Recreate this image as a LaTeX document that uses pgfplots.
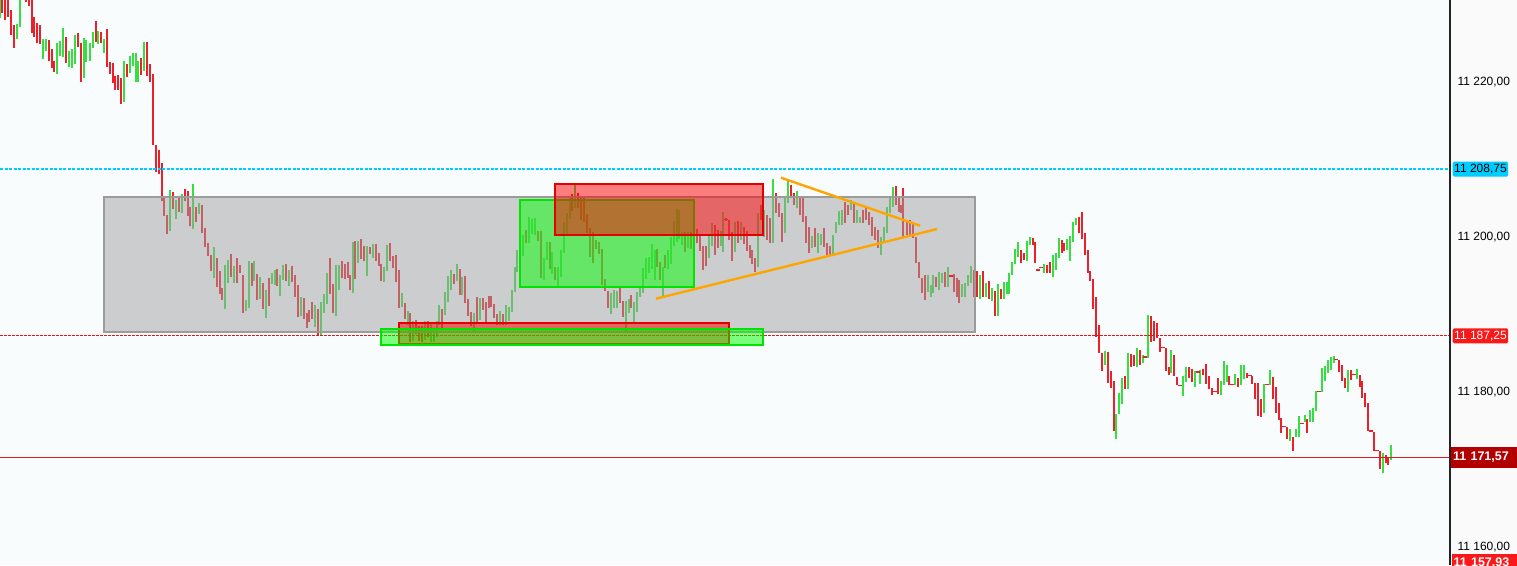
\documentclass[border=0pt]{standalone}
\usepackage{pgfplots}
\usepackage{pgfplotstable}
\usepackage{fontspec}
\setmainfont{Liberation Sans}
\pgfplotsset{compat=1.18}
\definecolor{upc}{RGB}{55,222,65}
\definecolor{dnc}{RGB}{236,32,42}
\definecolor{bgc}{RGB}{248,252,253}
\definecolor{panelc}{RGB}{250,250,250}
\definecolor{grayfill}{RGB}{160,160,160}
\definecolor{grayedge}{RGB}{155,155,155}
\definecolor{orangec}{RGB}{255,165,0}
\definecolor{levelcyan}{RGB}{0,205,255}
\definecolor{cyanbox}{RGB}{0,205,255}
\definecolor{levelred}{RGB}{230,20,20}
\definecolor{lastred}{RGB}{215,30,30}
\definecolor{darkredbox}{RGB}{178,0,0}
\definecolor{redbox}{RGB}{250,25,25}
\definecolor{axisc}{RGB}{35,35,35}
% x = bar position, lo = low, hi = high, d = 1 up (green) / 0 down (red)
\pgfplotstableread{
x lo hi d
0 11228.3 11231.5 1
2 11228.9 11231.0 0
5 11228.0 11231.2 0
8 11228.4 11231.0 0
11 11226.1 11229.3 0
14 11224.4 11227.4 0
17 11225.6 11227.5 1
20 11227.1 11230.8 1
23 11231.0 11232.0 0
26 11230.3 11231.5 0
29 11229.8 11231.2 0
32 11226.3 11230.7 0
34 11225.8 11228.4 0
37 11225.0 11227.6 0
40 11224.9 11227.4 0
43 11223.0 11225.6 1
46 11224.0 11225.6 1
49 11222.7 11225.4 0
52 11221.8 11224.3 0
54 11221.3 11222.7 0
57 11221.0 11225.0 1
60 11223.4 11225.3 1
63 11223.2 11227.0 1
66 11222.5 11225.8 0
69 11221.9 11224.0 1
72 11221.8 11224.3 1
75 11222.3 11226.1 1
78 11224.5 11226.3 0
81 11220.0 11225.0 0
84 11220.5 11225.7 1
86 11222.6 11225.4 1
90 11222.7 11225.0 1
93 11224.4 11226.5 1
96 11225.2 11227.9 0
98 11224.9 11226.6 1
101 11225.0 11226.5 0
104 11223.7 11225.6 1
107 11221.9 11226.8 0
110 11221.0 11222.6 0
113 11219.9 11222.5 0
115 11219.0 11220.8 0
118 11219.0 11220.9 0
121 11217.2 11220.5 0
124 11217.4 11222.7 1
127 11220.6 11222.3 0
130 11221.2 11223.4 1
133 11222.1 11223.7 1
136 11220.0 11223.7 1
138 11220.0 11222.7 1
141 11220.9 11223.1 0
144 11221.4 11225.2 1
147 11220.8 11225.2 0
150 11220.0 11222.3 0
153 11211.9 11221.0 0
156 11208.4 11211.9 0
159 11208.1 11211.2 0
162 11204.6 11209.5 0
164 11202.7 11205.3 0
167 11200.4 11202.8 0
170 11200.8 11206.1 1
173 11203.6 11205.8 0
176 11202.3 11204.8 1
179 11203.2 11205.0 0
182 11203.1 11205.6 1
185 11204.6 11206.2 0
188 11202.7 11206.0 0
190 11201.4 11203.9 0
193 11201.0 11206.9 1
196 11202.0 11203.9 0
199 11203.0 11204.4 1
202 11200.5 11204.1 0
205 11198.7 11201.2 0
208 11197.5 11199.2 0
211 11195.6 11197.7 0
214 11194.7 11198.7 1
217 11193.5 11197.3 0
220 11192.6 11195.6 0
222 11191.9 11193.4 0
225 11190.7 11196.4 1
228 11194.1 11197.0 1
231 11194.8 11197.8 0
234 11194.1 11196.3 1
237 11194.1 11197.3 0
240 11195.4 11196.4 0
243 11190.2 11195.1 0
246 11190.5 11191.9 1
249 11190.8 11196.9 1
252 11193.7 11196.6 0
254 11194.3 11196.9 1
257 11191.9 11195.2 0
260 11192.0 11194.8 1
263 11190.7 11194.1 0
266 11189.5 11193.2 1
269 11191.1 11194.7 0
272 11193.9 11195.4 1
275 11193.8 11195.7 1
277 11193.7 11195.9 0
280 11192.4 11195.1 1
283 11194.5 11196.4 1
286 11194.3 11196.5 0
289 11193.7 11195.7 1
292 11194.2 11196.3 0
295 11192.3 11195.1 0
298 11189.7 11193.8 0
301 11189.8 11192.3 1
304 11189.4 11192.1 0
307 11188.3 11190.2 0
309 11189.0 11190.6 0
312 11189.4 11191.6 0
315 11188.4 11191.2 1
318 11187.2 11190.7 0
321 11187.4 11191.6 1
324 11190.2 11192.7 1
327 11191.4 11195.4 1
330 11192.7 11197.3 0
333 11190.2 11194.0 0
336 11189.8 11196.4 1
339 11193.2 11196.4 1
342 11194.7 11196.9 0
345 11194.6 11196.5 0
348 11194.7 11196.8 0
350 11193.2 11195.1 0
353 11192.8 11199.4 1
355 11194.6 11199.5 0
358 11196.7 11199.5 1
361 11197.2 11199.8 0
364 11196.9 11198.9 0
367 11195.0 11198.9 1
370 11197.8 11198.7 0
373 11197.3 11199.1 1
376 11196.9 11199.1 0
379 11196.3 11197.9 0
381 11194.3 11196.5 0
384 11194.2 11196.1 1
387 11195.6 11199.0 1
390 11196.9 11199.2 0
393 11196.0 11197.6 0
396 11194.2 11197.7 0
399 11190.8 11195.7 0
402 11191.0 11192.8 1
405 11189.4 11191.5 0
408 11188.6 11190.5 1
410 11186.5 11190.2 0
413 11186.6 11189.2 1
416 11187.5 11189.3 0
419 11186.6 11188.5 0
422 11186.5 11188.5 0
425 11186.7 11189.2 1
428 11187.1 11189.2 0
431 11186.5 11188.8 1
434 11186.5 11188.3 1
437 11187.1 11189.2 1
439 11188.6 11191.2 1
442 11188.3 11190.7 0
445 11189.9 11192.9 1
448 11191.6 11195.0 1
451 11193.2 11195.7 1
454 11193.9 11195.2 0
457 11194.3 11196.5 1
460 11192.5 11195.9 0
462 11192.5 11194.8 1
465 11191.5 11195.0 0
468 11189.8 11192.0 0
471 11188.5 11190.3 0
474 11187.9 11190.2 1
477 11188.8 11192.3 0
480 11189.3 11192.1 1
483 11190.6 11192.1 0
486 11188.8 11191.6 0
489 11190.8 11192.4 0
491 11191.0 11192.4 0
494 11189.5 11191.4 0
497 11188.6 11190.1 0
500 11188.6 11190.5 1
503 11188.6 11190.1 0
506 11188.6 11191.2 1
509 11189.2 11191.0 1
512 11190.3 11193.2 1
515 11192.9 11196.1 1
517 11195.5 11198.3 1
520 11198.1 11200.9 1
523 11197.6 11200.3 1
526 11199.2 11200.9 0
529 11199.2 11202.6 1
532 11200.4 11202.3 1
535 11200.3 11202.5 1
538 11199.5 11200.8 0
541 11194.7 11200.8 0
544 11194.5 11197.3 1
547 11197.0 11199.4 1
550 11195.9 11199.4 0
552 11195.2 11198.1 1
555 11194.5 11196.1 0
558 11193.6 11196.1 1
561 11194.8 11198.3 1
564 11198.0 11202.0 1
567 11200.1 11203.1 1
570 11202.3 11205.0 1
572 11203.4 11205.6 0
575 11203.7 11206.7 1
578 11203.7 11205.7 0
581 11202.2 11205.2 0
584 11201.9 11205.0 0
587 11200.5 11203.0 0
590 11197.4 11201.2 0
593 11196.6 11200.7 0
596 11198.5 11199.6 0
599 11197.8 11199.4 0
602 11193.8 11198.5 0
605 11193.0 11194.6 0
608 11190.8 11193.0 0
611 11190.1 11192.8 1
614 11190.8 11193.2 1
617 11190.8 11193.0 1
620 11191.5 11193.4 0
623 11189.7 11191.7 0
626 11187.6 11191.7 1
629 11190.2 11192.0 1
631 11190.8 11192.5 0
634 11189.0 11191.6 1
637 11190.3 11192.9 1
640 11192.3 11193.7 1
643 11192.8 11196.0 1
646 11194.6 11197.3 1
649 11195.4 11197.4 1
652 11195.9 11199.1 1
655 11194.5 11198.3 1
657 11196.1 11198.5 0
660 11194.5 11196.8 0
663 11192.4 11196.1 1
665 11196.0 11197.7 0
668 11195.9 11198.3 1
671 11196.5 11200.0 1
674 11198.8 11202.1 1
677 11199.4 11203.6 1
679 11199.7 11203.5 1
682 11199.0 11200.6 1
685 11198.1 11200.6 0
688 11198.6 11200.6 1
691 11198.5 11200.6 0
694 11200.1 11201.0 0
697 11199.2 11201.0 0
700 11198.2 11200.1 0
703 11195.7 11198.8 0
706 11196.3 11198.8 0
709 11197.3 11200.3 1
712 11198.8 11201.8 1
715 11197.7 11201.5 0
718 11198.6 11200.9 0
721 11198.8 11200.8 1
723 11198.1 11203.2 1
726 11202.1 11202.4 0
729 11199.6 11202.2 0
732 11196.9 11200.7 0
735 11198.1 11202.0 1
738 11199.2 11202.1 0
741 11199.6 11202.0 1
744 11199.1 11201.3 0
747 11198.2 11200.8 0
750 11197.3 11199.0 0
752 11196.5 11198.3 0
755 11195.5 11197.3 0
758 11196.1 11203.1 1
761 11202.2 11204.1 0
764 11200.0 11203.5 1
767 11199.6 11202.8 0
770 11199.2 11202.5 0
773 11199.2 11207.5 1
776 11203.1 11205.7 0
779 11202.6 11204.4 0
782 11199.4 11203.1 0
785 11200.5 11205.0 1
788 11204.4 11207.5 1
791 11205.0 11206.7 0
794 11204.1 11205.7 0
797 11203.7 11205.9 1
800 11202.8 11205.2 0
803 11201.9 11205.2 0
806 11199.2 11202.7 0
809 11197.9 11201.3 0
812 11198.6 11200.1 1
815 11198.7 11201.2 0
818 11197.9 11200.5 1
821 11199.0 11200.4 1
824 11198.7 11201.2 0
827 11197.5 11199.2 0
830 11197.7 11198.9 0
833 11197.7 11200.3 1
836 11200.5 11202.0 1
839 11201.5 11203.3 1
842 11201.5 11203.5 1
845 11201.8 11204.5 0
848 11202.8 11204.1 0
851 11203.5 11204.8 1
854 11201.8 11204.4 0
857 11201.8 11203.5 1
860 11201.8 11202.6 1
863 11201.8 11203.5 0
866 11202.2 11203.7 0
869 11201.5 11203.2 0
872 11200.1 11202.6 0
875 11199.6 11201.3 0
878 11198.6 11200.9 0
881 11197.7 11200.0 1
884 11199.4 11201.3 1
887 11200.5 11203.9 1
890 11203.1 11205.2 1
893 11203.9 11206.5 1
896 11204.1 11206.6 0
899 11203.2 11205.0 0
901 11203.1 11204.1 0
903 11200.0 11206.3 0
907 11200.3 11202.2 0
910 11200.3 11202.2 0
913 11199.9 11202.0 0
916 11196.7 11200.0 0
919 11194.7 11196.8 0
922 11192.8 11194.7 0
925 11191.9 11195.1 0
928 11192.9 11195.1 1
931 11192.3 11193.8 1
933 11192.8 11195.1 1
936 11193.5 11194.8 0
939 11193.2 11195.5 1
942 11194.1 11195.3 1
945 11193.5 11195.5 0
948 11193.5 11196.1 1
951 11194.85 11195.05 0
954 11192.9 11195.2 0
957 11192.3 11194.7 0
959 11191.5 11194.5 0
962 11192.3 11194.0 1
965 11192.3 11194.1 1
968 11193.7 11195.1 1
971 11194.1 11196.3 1
974 11192.3 11195.7 0
977 11192.3 11195.6 0
980 11192.0 11195.1 1
983 11192.3 11195.6 0
986 11192.2 11194.1 1
989 11192.0 11194.3 0
992 11191.7 11193.4 1
995 11189.8 11193.0 0
998 11189.8 11193.9 1
1001 11192.0 11193.3 0
1004 11192.0 11194.2 1
1007 11192.6 11194.2 1
1009 11192.6 11195.4 1
1012 11195.1 11196.8 1
1015 11196.5 11198.5 1
1018 11197.4 11199.4 1
1021 11196.6 11198.3 0
1024 11197.0 11197.9 0
1027 11196.9 11199.5 1
1030 11199.0 11200.0 1
1033 11199.0 11199.9 0
1035 11196.6 11199.4 0
1038 11195.6 11195.9 0
1041 11195.95 11196.15 0
1044 11195.4 11196.5 1
1047 11195.4 11196.4 0
1050 11195.4 11196.8 0
1053 11194.8 11197.7 1
1056 11195.7 11197.9 1
1059 11197.3 11199.9 1
1062 11197.9 11199.6 0
1064 11198.2 11199.2 0
1067 11198.3 11199.7 1
1070 11196.9 11200.1 1
1073 11199.4 11201.9 1
1076 11201.5 11202.5 1
1079 11200.5 11202.6 0
1082 11199.7 11203.2 0
1085 11197.7 11200.5 0
1088 11195.4 11198.3 0
1090 11194.3 11195.6 0
1093 11190.7 11194.6 0
1096 11187.1 11192.3 0
1099 11185.0 11188.6 0
1102 11182.7 11185.0 0
1105 11183.5 11185.3 1
1108 11181.2 11185.2 0
1111 11180.5 11182.7 0
1114 11175.0 11181.4 0
1116 11173.9 11177.2 1
1119 11177.2 11179.9 1
1122 11178.5 11181.8 1
1125 11180.4 11182.1 0
1128 11180.4 11185.0 1
1131 11183.2 11184.9 0
1134 11183.4 11184.8 0
1137 11183.2 11185.7 1
1140 11183.5 11185.4 0
1143 11183.7 11184.8 1
1145 11184.4 11184.7 0
1148 11184.4 11189.9 1
1151 11186.5 11189.8 0
1154 11186.6 11189.2 0
1157 11187.0 11188.9 0
1160 11185.2 11187.0 0
1163 11185.65 11185.85 0
1166 11182.7 11185.7 0
1169 11182.2 11183.2 0
1171 11182.5 11185.4 1
1174 11182.1 11184.8 0
1177 11180.9 11182.0 0
1180 11180.75 11180.95 0
1183 11179.5 11182.1 1
1186 11181.3 11183.2 1
1189 11181.8 11183.2 0
1192 11181.3 11183.0 0
1195 11180.6 11182.7 1
1198 11182.45 11182.65 0
1200 11181.0 11182.8 1
1203 11182.2 11183.0 0
1206 11181.0 11183.6 0
1209 11180.4 11182.1 0
1212 11179.6 11180.5 0
1215 11179.95 11180.15 0
1218 11179.7 11181.8 0
1221 11179.6 11181.4 1
1224 11180.9 11184.0 1
1227 11181.3 11183.5 1
1229 11180.9 11182.1 0
1232 11180.85 11181.05 0
1235 11180.9 11182.3 1
1238 11180.6 11181.8 0
1241 11180.9 11183.5 1
1244 11181.7 11183.5 1
1247 11181.8 11182.5 0
1250 11182.05 11182.25 0
1252 11181.0 11182.1 0
1255 11179.1 11181.2 0
1258 11176.9 11181.2 0
1261 11176.8 11179.1 0
1264 11177.3 11181.0 1
1267 11180.85 11181.05 0
1270 11180.9 11182.8 1
1273 11179.1 11181.9 0
1276 11177.3 11180.6 0
1279 11176.4 11178.6 0
1281 11174.7 11176.6 0
1284 11175.45 11175.65 0
1287 11173.9 11175.5 0
1290 11173.7 11175.2 1
1293 11172.4 11174.2 0
1296 11174.2 11175.2 1
1299 11174.2 11176.9 1
1302 11175.85 11176.05 0
1305 11176.1 11177.0 1
1307 11174.7 11176.5 0
1310 11176.1 11177.7 1
1313 11176.1 11177.9 1
1316 11177.6 11180.1 1
1319 11179.95 11180.15 0
1322 11180.0 11183.1 1
1325 11181.4 11183.4 1
1328 11182.5 11184.1 1
1331 11182.8 11184.5 1
1334 11183.7 11184.7 1
1336 11184.1 11184.3 0
1339 11182.6 11184.1 0
1342 11181.4 11183.5 0
1345 11180.5 11181.8 0
1348 11180.0 11182.8 1
1351 11181.5 11182.8 0
1354 11182.15 11182.35 0
1357 11181.7 11183.0 1
1360 11180.6 11182.2 0
1362 11179.2 11181.4 0
1365 11178.1 11179.9 0
1368 11175.0 11178.6 0
1371 11174.85 11175.05 0
1374 11172.4 11174.9 0
1377 11172.35 11172.55 0
1380 11170.1 11172.4 0
1383 11169.5 11172.1 1
1386 11170.9 11171.9 0
1388 11170.6 11171.6 0
1391 11171.2 11173.2 1
}\bars
% bars with open = close (drawn as short ticks)
\pgfplotstableread{
x p
726 11202.25
951 11194.95
1038 11195.75
1041 11196.05
1145 11184.55
1163 11185.75
1180 11180.85
1198 11182.55
1215 11180.05
1232 11180.95
1250 11182.15
1267 11180.95
1284 11175.55
1302 11175.95
1319 11180.05
1336 11184.20
1354 11182.25
1371 11174.95
1377 11172.45
}\dojis
\begin{document}
\begin{tikzpicture}
\path[use as bounding box] (0,0) rectangle (1517pt,565pt);
\fill[bgc] (0,0) rectangle (1450pt,565pt);
\fill[panelc] (1450pt,0) rectangle (1517pt,565pt);
\begin{axis}[
  at={(0,0)}, anchor=south west,
  scale only axis, width=1450pt, height=565pt,
  xmin=0, xmax=1450, ymin=11157.68, ymax=11230.58,
  axis line style={draw=none},
  xtick=\empty,
  scaled y ticks=false,
  ytick={11160,11180,11200,11220},
  yticklabels={{11 160,00},{11 180,00},{11 200,00},{11 220,00}},
  yticklabel pos=right,
  major tick length=0pt,
  yticklabel style={font=\fontsize{12}{14}\selectfont, text=black, anchor=west, xshift=4pt},
  clip=true,
]
% price bars: vertical segment from low to high
\addplot[draw=upc, line width=1.6pt, mark=none, forget plot,
  restrict expr to domain={\thisrow{d}}{0.5:1.5},
  quiver={u=0, v=\thisrow{hi}-\thisrow{lo}}]
  table[x=x, y=lo] {\bars};
\addplot[draw=dnc, line width=1.6pt, mark=none, forget plot,
  restrict expr to domain={\thisrow{d}}{-0.5:0.5},
  quiver={u=0, v=\thisrow{hi}-\thisrow{lo}}]
  table[x=x, y=lo] {\bars};
\addplot[draw=dnc, only marks, mark=-, mark size=2pt, mark options={draw=dnc, line width=1.6pt}, forget plot]
  table[x=x, y=p] {\dojis};
% horizontal price levels
\addplot[levelcyan, line width=1.6pt, dash pattern=on 3pt off 1.5pt, mark=none, forget plot]
  coordinates {(0,11208.75) (1450,11208.75)};
\addplot[levelred, line width=1.3pt, dash pattern=on 2.5pt off 1.5pt, mark=none, forget plot]
  coordinates {(0,11187.25) (1450,11187.25)};
% zones
\fill[grayfill, fill opacity=0.5] (axis cs:104,11205.16) rectangle (axis cs:975,11187.74);
\draw[grayedge, line width=1.5pt] (axis cs:104,11205.16) rectangle (axis cs:975,11187.74);
\fill[red, fill opacity=0.5] (axis cs:399,11188.90) rectangle (axis cs:729,11186.19);
\draw[red!90!black, line width=1.3pt] (axis cs:399,11188.90) rectangle (axis cs:729,11186.19);
\fill[green, fill opacity=0.5] (axis cs:381,11188.13) rectangle (axis cs:763,11186.06);
\draw[green!90!black, line width=1.3pt] (axis cs:381,11188.13) rectangle (axis cs:763,11186.06);
\fill[green, fill opacity=0.5] (axis cs:520,11204.77) rectangle (axis cs:694,11193.55);
\draw[green!90!black, line width=1.3pt] (axis cs:520,11204.77) rectangle (axis cs:694,11193.55);
\fill[red, fill opacity=0.5] (axis cs:555,11206.84) rectangle (axis cs:763,11200.26);
\draw[red!90!black, line width=1.3pt] (axis cs:555,11206.84) rectangle (axis cs:763,11200.26);
% trend lines
\draw[orangec, line width=2.4pt] (axis cs:781,11207.65) -- (axis cs:920,11201.46);
\draw[orangec, line width=2.4pt] (axis cs:656,11192.04) -- (axis cs:937,11201.03);
\addplot[lastred, line width=1.2pt, mark=none, forget plot]
  coordinates {(0,11171.57) (1450,11171.57)};
\coordinate (c1) at (axis cs:1450,11208.75);
\coordinate (c2) at (axis cs:1450,11187.25);
\coordinate (c3) at (axis cs:1450,11171.57);
\coordinate (c4) at (axis cs:1450,11157.93);
\end{axis}
\draw[axisc, line width=2pt] (1450pt,0) -- (1450pt,565pt);
\node[anchor=west, fill=cyanbox, text=black, inner xsep=1.5pt, inner ysep=0pt, minimum height=15pt, rounded corners=1.5pt, font=\fontsize{12}{14}\selectfont] at ([xshift=2.5pt]c1) {11 208,75};
\node[anchor=west, fill=redbox, text=white, inner xsep=1.5pt, inner ysep=0pt, minimum height=15pt, rounded corners=1.5pt, font=\fontsize{12}{14}\selectfont] at ([xshift=2.5pt]c2) {11 187,25};
\node[anchor=west, fill=darkredbox, text=white, inner xsep=2pt, inner ysep=0pt, minimum height=21pt, text width=64pt, align=left, font=\fontsize{12.5}{14}\selectfont\bfseries] at ([xshift=1pt]c3) {11 171,57};
\node[anchor=west, fill=redbox, text=white, inner xsep=2pt, inner ysep=0pt, minimum height=18pt, text width=64pt, align=left, font=\fontsize{12.5}{14}\selectfont\bfseries] at ([xshift=1.5pt]c4) {11 157,93};
\end{tikzpicture}
\end{document}
